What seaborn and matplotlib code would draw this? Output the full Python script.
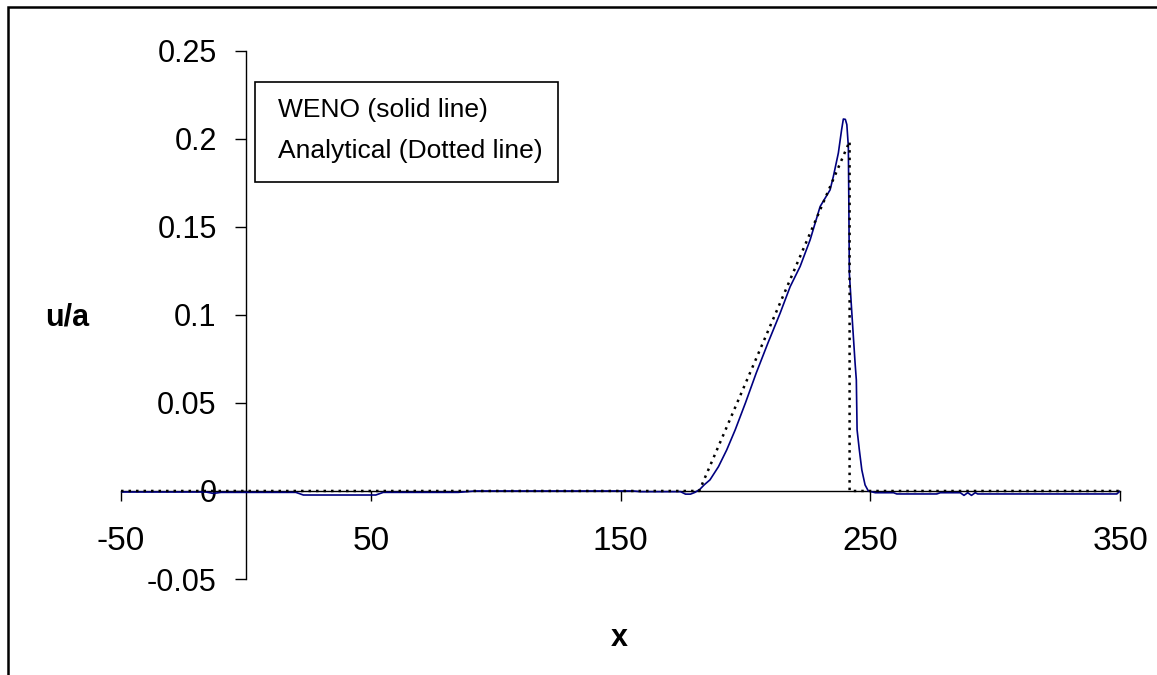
import numpy as np
import matplotlib
matplotlib.use('Agg')
import matplotlib.pyplot as plt
from matplotlib.patches import Rectangle
import pandas as pd
import seaborn as sns

# WENO solution (solid line)
weno_x = [-50, -16, -13, -10, 20, 23, 52, 55, 85, 92, 155, 158, 174, 176, 178,
          179.8, 181.8, 183.5, 185.8, 189.2, 192.5, 195.9, 200, 204.3, 209, 213.9,
          217.9, 221.9, 225.9, 229.9, 233.9, 235.2, 237.2, 238.5, 239.2, 240.0,
          240.6, 241.2, 241.4, 241.6, 242.6, 243.9, 244.4, 244.7, 245.6, 246.6,
          247.9, 249.2, 252, 259.3, 260.6, 276.6, 278, 286, 287.5, 289, 290.5,
          292, 293, 348.7, 350]
weno_y = [-0.0006, -0.0006, -0.0014, -0.0008, -0.0008, -0.0023, -0.0023, -0.0008,
          -0.0008, 0.0, 0.0, -0.0004, -0.0004, -0.0018, -0.0018,
          -0.0008, 0.001, 0.0035, 0.0063, 0.0138, 0.0233, 0.0347, 0.050, 0.0669,
          0.084, 0.101, 0.116, 0.1275, 0.1426, 0.1615, 0.171, 0.1786, 0.1919,
          0.2051, 0.2112, 0.2110, 0.208, 0.1956, 0.163, 0.1237, 0.101, 0.0726,
          0.063, 0.0347, 0.0233, 0.0119, 0.0034, 0.0, -0.001, -0.001, -0.0017,
          -0.0017, -0.001, -0.001, -0.0025, -0.001, -0.0025, -0.001, -0.0017,
          -0.0017, 0.0]

# analytical solution (dotted line)
ana_x = [-50, 181.5, 241.7, 241.7, 350]
ana_y = [0.0, 0.0, 0.1985, 0.0, 0.0]

x_ticks = [-50, 50, 150, 250, 350]
y_ticks = [-0.05, 0, 0.05, 0.1, 0.15, 0.2, 0.25]
y_labels = ['-0.05', '0', '0.05', '0.1', '0.15', '0.2', '0.25']

sns.set_style('white')
plt.rcParams['font.family'] = ['Liberation Sans', 'DejaVu Sans']
plt.rcParams['text.color'] = 'black'

fig = plt.figure(figsize=(11.57, 6.75), dpi=100)
ax = fig.add_axes([0.1046, 0.1422, 0.8635, 0.7827])
ax.patch.set_alpha(0)

weno = pd.DataFrame({'x': weno_x, 'y': weno_y})
ana = pd.DataFrame({'x': ana_x, 'y': ana_y})
sns.lineplot(data=weno, x='x', y='y', sort=False, estimator=None,
             color='#000080', linewidth=1.2, ax=ax, zorder=3)
sns.lineplot(data=ana, x='x', y='y', sort=False, estimator=None,
             color='black', linewidth=1.8, linestyle=(0, (1, 2)), ax=ax, zorder=4)

ax.set_xlim(-50, 350)
ax.set_ylim(-0.05, 0.25)
ax.set_xlabel('')
ax.set_ylabel('')

# axes crossing at zero, like the spreadsheet chart
ax.spines['left'].set_position(('data', 0))
ax.spines['bottom'].set_position(('data', 0))
ax.spines['top'].set_visible(False)
ax.spines['right'].set_visible(False)
for s in ['left', 'bottom']:
    ax.spines[s].set_color('black')
    ax.spines[s].set_linewidth(1.0)
    ax.spines[s].set_zorder(2)

ax.set_xticks(x_ticks)
ax.set_xticklabels([str(v) for v in x_ticks])
ax.set_yticks(y_ticks)
ax.set_yticklabels(y_labels)
ax.tick_params(axis='x', direction='out', length=7.5, width=1, pad=18,
               labelsize=24, colors='black', bottom=True)
ax.tick_params(axis='y', direction='out', length=8, width=1, pad=13,
               labelsize=22, colors='black', left=True)

fig.text(619 / 1157, 1 - 638 / 675, 'x', fontsize=22, fontweight='bold',
         color='black', ha='center', va='center')
fig.text(67 / 1157, 1 - 318 / 675, 'u/a', fontsize=22, fontweight='bold',
         color='black', ha='center', va='center')

# text box used as legend
fig.patches.append(Rectangle((255 / 1157, 1 - 182 / 675), 303 / 1157, 100 / 675,
                             transform=fig.transFigure, fill=False,
                             edgecolor='black', linewidth=1.2))
fig.text(278 / 1157, 1 - 110 / 675, 'WENO (solid line)', fontsize=19,
         color='black', ha='left', va='center')
fig.text(278 / 1157, 1 - 151 / 675, 'Analytical (Dotted line)', fontsize=19,
         color='black', ha='left', va='center')

# outer frame (runs off the right and bottom edges)
fig.patches.append(Rectangle((7.5 / 1157, -0.1), 1.2, 1 - 6.5 / 675 + 0.1,
                             transform=fig.transFigure, fill=False,
                             edgecolor='black', linewidth=1.8))

fig.savefig('out.png', dpi=100)
